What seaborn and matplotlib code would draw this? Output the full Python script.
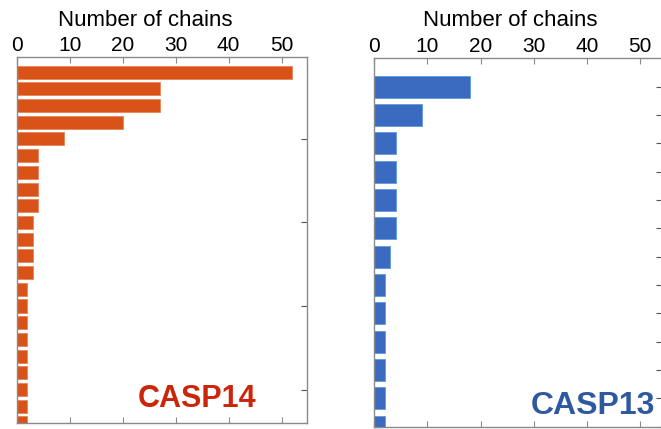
import matplotlib
matplotlib.use("Agg")
import matplotlib.pyplot as plt
import seaborn as sns
import pandas as pd

# ---- data ----
casp14_chains = [52, 27, 27, 20, 9, 4, 4, 4, 4, 3, 3, 3, 3, 2, 2, 2, 2, 2, 2, 2, 2, 2]
casp13_chains = [18, 9, 4, 4, 4, 4, 3, 2, 2, 2, 2, 2, 2]
x_ticks = [0, 10, 20, 30, 40, 50]
x_label = "Number of chains"
label14 = "CASP14"
label13 = "CASP13"

sns.set_theme(style="white")
plt.rcParams["font.family"] = ["Liberation Sans", "DejaVu Sans"]

W, H = 661, 429
fig = plt.figure(figsize=(W / 100, H / 100), dpi=100)

def px_axes(x0, y0, x1, y1):
    return fig.add_axes([x0 / W, (H - y1) / H, (x1 - x0) / W, (y1 - y0) / H])

ax1 = px_axes(16.7, 57, 307, 423)
ax2 = px_axes(374.3, 58.3, 662, 426.7)

df14 = pd.DataFrame({"rank": list(range(1, len(casp14_chains) + 1)), "chains": casp14_chains})
df13 = pd.DataFrame({"rank": list(range(1, len(casp13_chains) + 1)), "chains": casp13_chains})

sns.barplot(data=df14, x="chains", y="rank", orient="h", color="#D95319",
            saturation=1, width=0.78, edgecolor="#E8845A", linewidth=0.6, ax=ax1)
sns.barplot(data=df13, x="chains", y="rank", orient="h", color="#3A6BC0",
            saturation=1, width=0.78, edgecolor="#5C9BE0", linewidth=0.6, ax=ax2)

spine_col = "#8a8a8a"
for ax, xmax, ylim, yt in [
    (ax1, 54.8, (21.0, -0.9), [4, 9, 14, 19]),
    (ax2, 54.1, (12.0, -1.0), list(range(len(casp13_chains)))),
]:
    ax.set_xlim(0, xmax)
    ax.set_ylim(*ylim)
    ax.set_xticks(x_ticks)
    ax.set_xticklabels([str(t) for t in x_ticks])
    ax.set_yticks(yt)
    ax.set_yticklabels([])
    ax.set_ylabel("")
    ax.set_xlabel(x_label, fontsize=16, color="black")
    ax.xaxis.set_label_position("top")
    ax.xaxis.label.set_va("baseline")
    ax.tick_params(axis="x", which="both", top=True, bottom=True, labeltop=True,
                   labelbottom=False, direction="in", length=4, width=0.8,
                   color=spine_col, labelsize=15, labelcolor="black", pad=1.5)
    ax.tick_params(axis="y", which="both", left=True, right=True, labelleft=False,
                   direction="in", length=4, width=0.8, color="#555555")
    for s in ax.spines.values():
        s.set_visible(True)
        s.set_color(spine_col)
        s.set_linewidth(1.0)
    ax.set_facecolor("white")

ax1.xaxis.set_label_coords((145 - 16.7) / 290.3, 1 + (57 - 26) / 366)
ax2.xaxis.set_label_coords((510 - 374.3) / 287.7, 1 + (58.3 - 26) / 368.4)

ax1.text((197.5 - 16.7) / 290.3, (423 - 406.7) / 366, label14, transform=ax1.transAxes,
         ha="center", va="baseline", fontsize=22, fontweight="bold", color="#CC260A")
ax2.text((592.5 - 374.3) / 287.7, (426.7 - 414.3) / 368.4, label13, transform=ax2.transAxes,
         ha="center", va="baseline", fontsize=23, fontweight="bold", color="#2E58A0")

fig.savefig("out.png", dpi=100, facecolor="white")
